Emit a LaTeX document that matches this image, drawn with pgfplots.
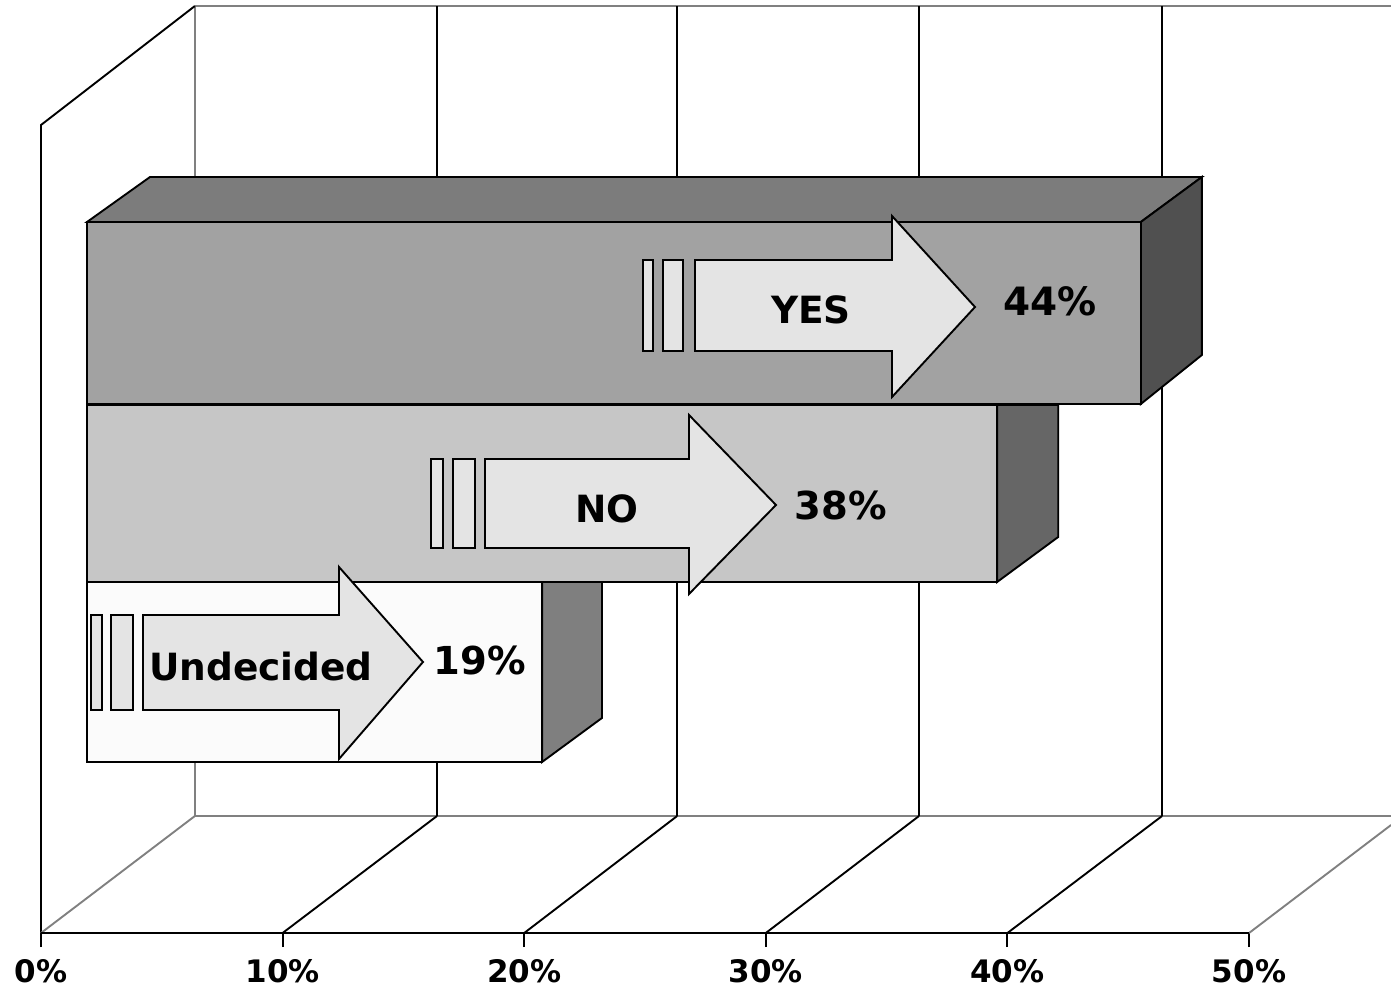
\documentclass[border=0pt]{standalone}
\usepackage{fontspec}
\setmainfont{DejaVu Sans}
\usepackage{pgfplots}
\pgfplotsset{compat=1.18}

\definecolor{wall}{HTML}{808080}
\definecolor{callout}{HTML}{E4E4E4}
\definecolor{yesfront}{HTML}{A2A2A2}
\definecolor{yestop}{HTML}{7C7C7C}
\definecolor{yesside}{HTML}{505050}
\definecolor{nofront}{HTML}{C6C6C6}
\definecolor{noside}{HTML}{666666}
\definecolor{undfront}{HTML}{FBFBFB}
\definecolor{undside}{HTML}{7F7F7F}

\pgfplotsset{
  panel/.style={
    at={(0pt,0pt)}, anchor=south west, scale only axis,
    width=1391pt, height=933pt,
    ymin=0, ymax=933, clip=false,
  },
  edge/.style={draw=black, line width=1.9pt, line join=miter, forget plot},
  box/.style={edge, fill=callout},
}

\begin{document}
\begin{tikzpicture}
\useasboundingbox (0pt,-55pt) rectangle (1391pt,933pt);

% Walls, floor and the percentage scale
\begin{axis}[panel,
  xmin=-1.697, xmax=55.877,
  axis y line=none, axis x line*=bottom,
  axis line style={draw=none},
  xtick={0,10,20,30,40,50},
  xticklabels={0\%,10\%,20\%,30\%,40\%,50\%},
  tick align=outside, major tick length=14pt,
  every tick/.append style={black, line width=1.9pt},
  xticklabel style={font=\bfseries\fontsize{31}{31}\selectfont, anchor=base, inner sep=0pt, yshift=-35.5pt},
]
\pgfplotsset{every axis plot/.append style={no marks, line width=1.9pt}}
\addplot[wall] coordinates {(6.37,117)(55.877,117)};
\addplot[wall] coordinates {(6.37,927)(55.877,927)};
\addplot[wall] coordinates {(6.37,117)(6.37,927)};
\addplot[black] coordinates {(16.39,117)(16.39,927)};
\addplot[black] coordinates {(26.33,117)(26.33,927)};
\addplot[black] coordinates {(36.34,117)(36.34,927)};
\addplot[black] coordinates {(46.40,117)(46.40,927)};
\addplot[black] coordinates {(0,0)(0,808)(6.37,927)};
\addplot[wall] coordinates {(0,0)(6.37,117)};
\addplot[black] coordinates {(10,0)(16.39,117)};
\addplot[black] coordinates {(20,0)(26.33,117)};
\addplot[black] coordinates {(30,0)(36.34,117)};
\addplot[black] coordinates {(40,0)(46.40,117)};
\addplot[wall] coordinates {(50,0)(55.877,108)};
\addplot[black] coordinates {(0,0)(50,0)};
\end{axis}

% Three-dimensional bars, measured from their own front-plane origin
\begin{axis}[panel, hide axis, xmin=-3.633, xmax=54.447]
\addplot[edge, fill=undside] coordinates {(19,171)(21.5,215)(21.5,351)(19,351)} -- cycle;
\addplot[edge, fill=undfront] coordinates {(0,171)(19,171)(19,351)(0,351)} -- cycle;
\addplot[edge, fill=noside] coordinates {(38,351)(40.55,396)(40.55,528)(38,528)} -- cycle;
\addplot[edge, fill=nofront] coordinates {(0,351)(38,351)(38,528)(0,528)} -- cycle;
\addplot[edge, fill=yestop] coordinates {(0,711)(2.63,756)(46.55,756)(44,711)} -- cycle;
\addplot[edge, fill=yesside] coordinates {(44,529)(46.55,578)(46.55,756)(44,711)} -- cycle;
\addplot[edge, fill=yesfront] coordinates {(0,529)(44,529)(44,711)(0,711)} -- cycle;
\end{axis}

% Callout arrows with their captions and percentages
\begin{axis}[panel, hide axis, xmin=0, xmax=1391]
\addplot[box] coordinates {(643,582)(653,582)(653,673)(643,673)} -- cycle;
\addplot[box] coordinates {(663,582)(683,582)(683,673)(663,673)} -- cycle;
\addplot[box] coordinates {(695,582)(892,582)(892,536)(975,626)(892,717)(892,673)(695,673)} -- cycle;
\addplot[box] coordinates {(431,385)(443,385)(443,474)(431,474)} -- cycle;
\addplot[box] coordinates {(453,385)(475,385)(475,474)(453,474)} -- cycle;
\addplot[box] coordinates {(485,385)(689,385)(689,339)(776,428)(689,518)(689,474)(485,474)} -- cycle;
\addplot[box] coordinates {(91,223)(102,223)(102,318)(91,318)} -- cycle;
\addplot[box] coordinates {(111,223)(133,223)(133,318)(111,318)} -- cycle;
\addplot[box] coordinates {(143,223)(339,223)(339,174)(423,271)(339,366)(339,318)(143,318)} -- cycle;
\tikzset{caption/.style={font=\bfseries\fontsize{37.5}{40}\selectfont, inner sep=0pt}}
\node[caption] at (axis cs:811,623) {YES};
\node[caption] at (axis cs:607,424) {NO};
\node[caption] at (axis cs:261,266) {Undecided};
\node[caption, font=\bfseries\fontsize{39}{40}\selectfont] at (axis cs:1050,632) {44\%};
\node[caption, font=\bfseries\fontsize{38.5}{40}\selectfont] at (axis cs:841,428) {38\%};
\node[caption, font=\bfseries\fontsize{38.5}{40}\selectfont] at (axis cs:480,273) {19\%};
\end{axis}
\end{tikzpicture}
\end{document}
